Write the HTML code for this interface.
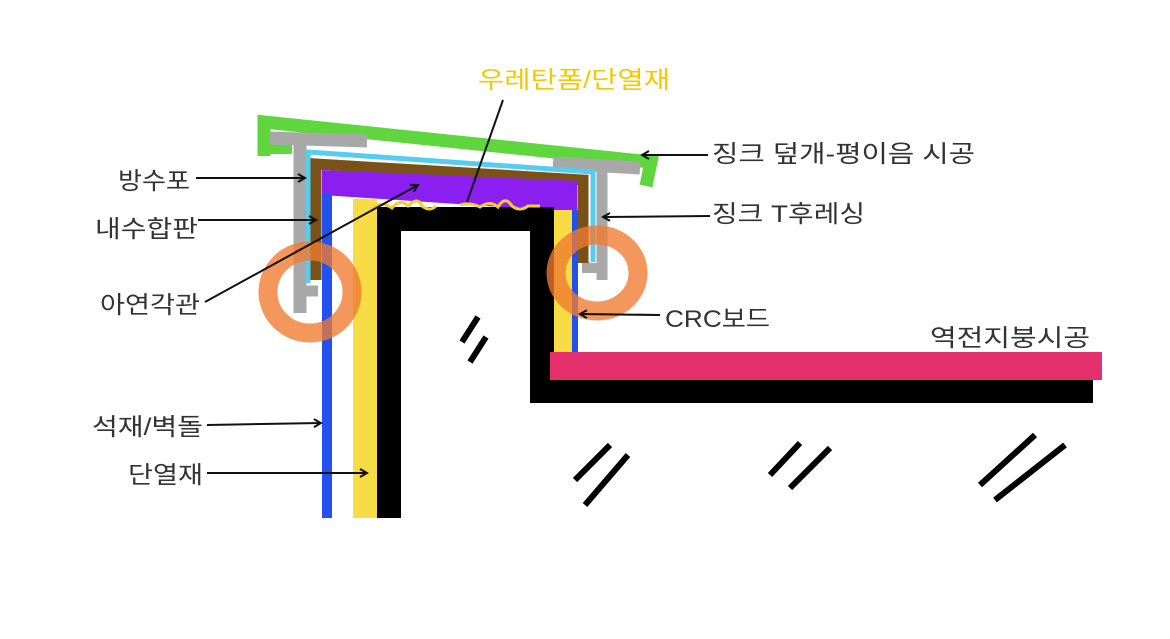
<!DOCTYPE html>
<html><head><meta charset="utf-8"><style>
html,body{margin:0;padding:0;background:#fff;}
svg{display:block}
text{font-family:"Liberation Sans","Noto Sans CJK KR",sans-serif;font-size:24px;fill:#333}
</style></head><body>
<svg width="1170" height="639" viewBox="0 0 1170 639" xmlns="http://www.w3.org/2000/svg">
<defs><marker id="a" markerWidth="10" markerHeight="10" refX="8" refY="5" orient="auto" markerUnits="userSpaceOnUse"><path d="M1,1 L8,5 L1,9" fill="none" stroke="#111" stroke-width="2"/></marker></defs>
<!-- green cover -->
<path d="M264,156 L264,122 L651,162 L646,186" fill="none" stroke="#5fd63e" stroke-width="13"/>
<path d="M262,149 L292,149" stroke="#5fd63e" stroke-width="10"/>
<!-- gray T left -->
<path d="M270,138 L367,141" stroke="#a8a8a8" stroke-width="13" fill="none"/>
<path d="M300,140 L300,313" stroke="#a8a8a8" stroke-width="13"/>
<path d="M306,291 L318,291" stroke="#a8a8a8" stroke-width="11"/>
<!-- gray T right -->
<path d="M553,163 L640,168" stroke="#a8a8a8" stroke-width="13"/>
<path d="M602,168 L602,280" stroke="#a8a8a8" stroke-width="11"/>
<path d="M582,268 L598,268" stroke="#a8a8a8" stroke-width="10"/>
<path d="M586,262 L586,273" stroke="#a8a8a8" stroke-width="8"/>
<!-- cyan -->
<path d="M308,283 L308,152 L593,172 L593,262" fill="none" stroke="#55ccf0" stroke-width="5"/>
<!-- brown -->
<path d="M316,280 L316,164 L583,180 L583,263" fill="none" stroke="#7a5218" stroke-width="11"/>
<!-- purple -->
<polygon points="322,170 577,181 577,212 322,195" fill="#8b1ff0"/>
<!-- blue -->
<rect x="322" y="193" width="10" height="325" fill="#2251f0"/>
<rect x="572" y="210" width="6" height="145" fill="#2251f0"/>
<!-- yellow -->
<rect x="353" y="199" width="24" height="319" fill="#f7dc45"/>
<rect x="547" y="210" width="25" height="145" fill="#f7dc45"/>
<!-- black -->
<path d="M389,518 L389,219 L542,219 L542,403" fill="none" stroke="#000" stroke-width="24"/>
<rect x="530" y="380" width="563" height="23" fill="#000"/>
<!-- pink -->
<rect x="550" y="352" width="552" height="28" fill="#e5306e"/>
<!-- yellow squiggles -->
<path d="M370,210 Q380,200 392,208 Q400,198 408,206 Q418,196 422,206 Q430,212 436,206 M460,205 Q470,202 480,207 Q490,200 498,207 Q505,195 512,206 Q520,212 528,206 L540,206" fill="none" stroke="#f2cf2a" stroke-width="3"/>
<!-- orange rings -->
<ellipse cx="310" cy="292" rx="42" ry="41" fill="none" stroke="#f07a30" stroke-opacity="0.78" stroke-width="19"/>
<ellipse cx="597" cy="273" rx="41" ry="38" fill="none" stroke="#f07a30" stroke-opacity="0.78" stroke-width="19"/>
<!-- slashes -->
<g stroke="#000" stroke-width="6">
<line x1="478" y1="317" x2="462" y2="342"/><line x1="486" y1="337" x2="470" y2="362"/>
<line x1="610" y1="445" x2="575" y2="480"/><line x1="628" y1="455" x2="585" y2="505"/>
<line x1="800" y1="443" x2="770" y2="475"/><line x1="830" y1="448" x2="790" y2="488"/>
<line x1="1035" y1="435" x2="980" y2="485"/><line x1="1065" y1="445" x2="995" y2="500"/>
</g>
<!-- leaders -->
<g stroke="#111" stroke-width="2" fill="none">
<line x1="503" y1="100" x2="467" y2="202"/>
<line x1="708" y1="155" x2="642" y2="155" marker-end="url(#a)"/>
<line x1="196" y1="178" x2="305" y2="178" marker-end="url(#a)"/>
<line x1="198" y1="220" x2="316" y2="220" marker-end="url(#a)"/>
<line x1="205" y1="302" x2="418" y2="185" marker-end="url(#a)"/>
<line x1="710" y1="216" x2="603" y2="217" marker-end="url(#a)"/>
<line x1="660" y1="315" x2="580" y2="314" marker-end="url(#a)"/>
<line x1="207" y1="425" x2="321" y2="423" marker-end="url(#a)"/>
<line x1="207" y1="473" x2="367" y2="473" marker-end="url(#a)"/>
</g>
<text x="478" y="88" textLength="192" lengthAdjust="spacingAndGlyphs" style="fill:#f5c800">우레탄폼/단열재</text>
<text x="712" y="162" textLength="263" lengthAdjust="spacingAndGlyphs">징크 덮개-평이음 시공</text>
<text x="118" y="189" textLength="72" lengthAdjust="spacingAndGlyphs">방수포</text>
<text x="95" y="237" textLength="103" lengthAdjust="spacingAndGlyphs">내수합판</text>
<text x="100" y="313" textLength="100" lengthAdjust="spacingAndGlyphs">아연각관</text>
<text x="712" y="222" textLength="153" lengthAdjust="spacingAndGlyphs">징크 T후레싱</text>
<text x="665" y="327" textLength="105" lengthAdjust="spacingAndGlyphs">CRC보드</text>
<text x="930" y="346" textLength="160" lengthAdjust="spacingAndGlyphs">역전지붕시공</text>
<text x="92" y="435" textLength="111" lengthAdjust="spacingAndGlyphs">석재/벽돌</text>
<text x="128" y="483" textLength="75" lengthAdjust="spacingAndGlyphs">단열재</text>
</svg>
</body></html>
